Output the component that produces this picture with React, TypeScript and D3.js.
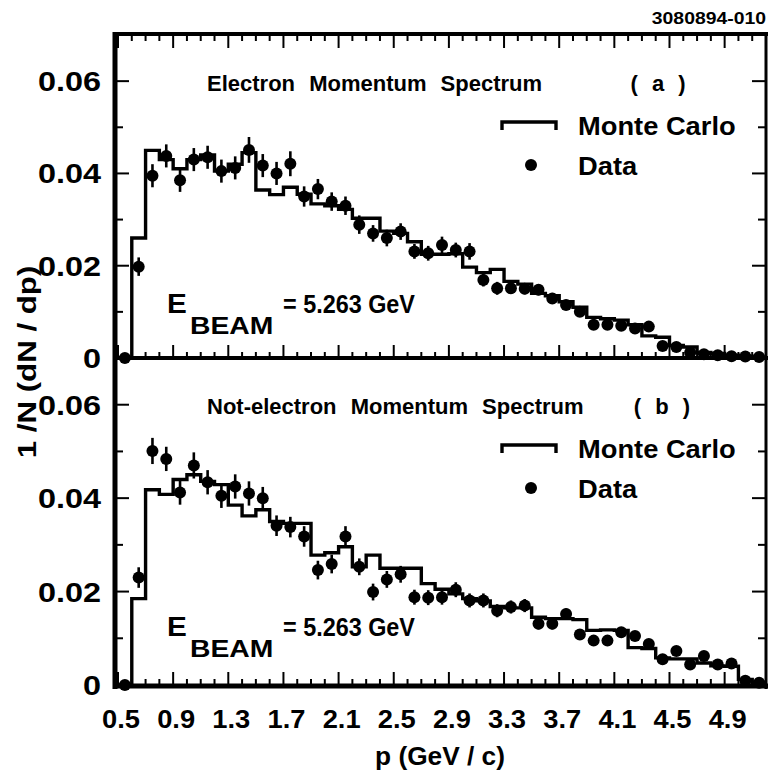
import React from 'react'
import * as d3 from 'd3'

// momentum bins: 0.1 GeV wide, from 0.5 to 5.2 GeV
const pLow = 0.5
const pHigh = 5.2
const binWidth = 0.1

const xTickLabels = ['0.5', '0.9', '1.3', '1.7', '2.1', '2.5', '2.9', '3.3', '3.7', '4.1', '4.5', '4.9']
const yTickLabels = ['0', '0.02', '0.04', '0.06']

// (a) electron spectrum
const mcA = [
  0, 0.026, 0.045, 0.043, 0.041, 0.043, 0.044, 0.0405, 0.042, 0.0445,
  0.0364, 0.0354, 0.037, 0.0355, 0.0334, 0.033, 0.0322, 0.0303, 0.0303, 0.0275,
  0.027, 0.0252, 0.0225, 0.0225, 0.0226, 0.0197, 0.0185, 0.0192, 0.0166, 0.016,
  0.014, 0.0135, 0.0122, 0.011, 0.0088, 0.0085, 0.0082, 0.0072, 0.0048, 0.0045,
  0.0027, 0.0024, 0.0012, 0.001, 0.0006, 0.0004, 0.0002,
]
const dataA = [
  0, 0.0198, 0.0395, 0.0438, 0.0385, 0.043, 0.0435, 0.0405, 0.0412, 0.0451,
  0.0417, 0.04, 0.0421, 0.035, 0.0366, 0.0339, 0.033, 0.0289, 0.027, 0.026,
  0.0274, 0.0231, 0.0227, 0.0245, 0.0234, 0.0231, 0.0169, 0.0151, 0.0151, 0.015,
  0.0148, 0.0129, 0.0115, 0.01, 0.0072, 0.0072, 0.007, 0.0064, 0.0068, 0.0026,
  0.0024, 0.0012, 0.0008, 0.0006, 0.0004, 0.0003, 0.0002,
]
const errA = [
  0.0004, 0.002, 0.0025, 0.0025, 0.0025, 0.0025, 0.0025, 0.0025, 0.0025, 0.0028,
  0.0025, 0.0025, 0.0027, 0.0022, 0.0022, 0.002, 0.002, 0.002, 0.0018, 0.0018,
  0.0018, 0.0016, 0.0016, 0.0018, 0.0016, 0.0018, 0.0014, 0.0014, 0.0012, 0.0012,
  0.0012, 0.0012, 0.0011, 0.0011, 0.001, 0.001, 0.001, 0.001, 0.001, 0.0008,
  0.0008, 0.0006, 0.0006, 0.0005, 0.0005, 0.0004, 0.0004,
]

// (b) not-electron spectrum
const mcB = [
  0, 0.0185, 0.0418, 0.0408, 0.044, 0.045, 0.0436, 0.0429, 0.0385, 0.0362,
  0.0375, 0.035, 0.0346, 0.0346, 0.0278, 0.0283, 0.0296, 0.0253, 0.0278, 0.025,
  0.025, 0.025, 0.0217, 0.0205, 0.0195, 0.0185, 0.018, 0.0168, 0.0165, 0.0165,
  0.0145, 0.0142, 0.0142, 0.014, 0.0117, 0.0118, 0.0117, 0.008, 0.0078, 0.0058,
  0.0056, 0.0056, 0.0047, 0.0041, 0.004, 0.0012, 0.0006,
]
const dataB = [
  0, 0.023, 0.0501, 0.0484, 0.0412, 0.047, 0.0434, 0.0405, 0.0425, 0.041,
  0.04, 0.0341, 0.0338, 0.0318, 0.0246, 0.0259, 0.0318, 0.0253, 0.0199, 0.0226,
  0.0237, 0.0188, 0.0187, 0.0188, 0.0204, 0.0181, 0.0181, 0.0159, 0.0167, 0.017,
  0.0131, 0.0131, 0.0152, 0.0108, 0.0095, 0.0095, 0.0113, 0.0105, 0.0088, 0.0055,
  0.0073, 0.0044, 0.0062, 0.0044, 0.0046, 0.0009, 0.0005,
]
const errB = [
  0.0004, 0.0022, 0.0028, 0.0026, 0.0026, 0.0028, 0.0026, 0.0026, 0.0026, 0.0026,
  0.0024, 0.0022, 0.0022, 0.0022, 0.002, 0.002, 0.0022, 0.0018, 0.0018, 0.0018,
  0.0018, 0.0016, 0.0016, 0.0016, 0.0016, 0.0015, 0.0015, 0.0014, 0.0014, 0.0014,
  0.0012, 0.0012, 0.0012, 0.0011, 0.0011, 0.0011, 0.0011, 0.001, 0.001, 0.0009,
  0.0009, 0.0008, 0.0008, 0.0008, 0.0008, 0.0005, 0.0005,
]

const FONT = 'Liberation Sans, Arial, Helvetica, sans-serif'

const x = d3.scaleLinear().domain([pLow, pHigh]).range([118, 766])
const frameLeft = 115
const frameRight = 766

type TProps = {
  x: number
  y: number
  size?: number
  anchor?: string
  sx?: number
  rotate?: number
  ws?: number
  children: React.ReactNode
}

function T({ x, y, size = 24, anchor = 'start', sx = 1, rotate = 0, ws = 0, children }: TProps) {
  return (
    <text
      transform={`translate(${x},${y}) rotate(${rotate}) scale(${sx},1)`}
      fontFamily={FONT}
      fontWeight="bold"
      fontSize={size}
      textAnchor={anchor}
      wordSpacing={ws}
      fill="#000"
    >
      {children}
    </text>
  )
}

type PanelProps = {
  mc: number[]
  data: number[]
  err: number[]
  top: number
  bottom: number
  title: string
  tag: string
  tagX: number
  topTicks: boolean
}

function Panel({ mc, data, err, top, bottom, title, tag, tagX, topTicks }: PanelProps) {
  const y = d3.scaleLinear().domain([0, 0.07]).range([bottom, top])
  const edges = mc.map((_, i) => pLow + i * binWidth)
  const steps: [number, number][] = mc.map((v, i) => [edges[i], v])
  steps.push([pHigh, mc[mc.length - 1]])
  const line = d3
    .line<[number, number]>()
    .x(d => x(d[0]))
    .y(d => y(d[1]))
    .curve(d3.curveStepAfter)

  const minor = d3.range(0, 48).map(i => pLow + i * binWidth)
  const yMinor = d3.range(0, 8).map(i => i * 0.01)

  return (
    <g>
      {/* x ticks on the lower edge */}
      {minor.map((p, i) => {
        const major = i % 4 === 0
        return (
          <line key={`xb${i}`} x1={x(p)} x2={x(p)} y1={bottom} y2={bottom - (major ? 13 : 6)}
            stroke="#000" strokeWidth={2} />
        )
      })}
      {topTicks && minor.map((p, i) => {
        const major = i % 4 === 0
        return (
          <line key={`xt${i}`} x1={x(p)} x2={x(p)} y1={top} y2={top + (major ? 13 : 6)}
            stroke="#000" strokeWidth={2} />
        )
      })}
      {/* y ticks */}
      {yMinor.slice(1).map((v, i) => {
        const major = (i + 1) % 2 === 0
        return (
          <g key={`y${i}`}>
            <line x1={frameLeft} x2={frameLeft + (major ? 14 : 8)} y1={y(v)} y2={y(v)} stroke="#000" strokeWidth={2} />
            <line x1={frameRight} x2={frameRight - (major ? 14 : 8)} y1={y(v)} y2={y(v)} stroke="#000" strokeWidth={2} />
          </g>
        )
      })}
      {yTickLabels.map((t, i) => (
        <T key={t} x={101} y={y(i * 0.02) + 10} size={27} anchor="end" sx={1.2}>{t}</T>
      ))}

      {/* Monte Carlo histogram */}
      <path d={line(steps) ?? ''} fill="none" stroke="#000" strokeWidth={3.4} strokeLinejoin="miter" />

      {/* data with errors */}
      {data.map((v, i) => {
        const p = pLow + (i + 0.5) * binWidth
        return (
          <g key={`d${i}`}>
            <line x1={x(p)} x2={x(p)} y1={y(Math.max(0, v - err[i]))} y2={y(v + err[i])} stroke="#000" strokeWidth={2.6} />
            <circle cx={x(p)} cy={y(v)} r={6} fill="#000" />
          </g>
        )
      })}

      {/* titles and legend */}
      <T x={207} y={top + 56} size={22} ws={8}>{title}</T>
      <T x={tagX} y={top + 56} size={22} anchor="middle" ws={8}>{tag}</T>

      <path d={`M${502},${top + 95} V${top + 87} H${556} V${top + 95}`} fill="none" stroke="#000" strokeWidth={3.4} />
      <T x={578} y={top + 100} size={26} sx={1.05}>Monte Carlo</T>
      <circle cx={531} cy={top + 130} r={6} fill="#000" />
      <T x={578} y={top + 140} size={26} sx={1.05}>Data</T>

      <T x={167} y={top + 278} size={27} sx={1.1}>E</T>
      <T x={190} y={top + 299} size={24} sx={1.18}>BEAM</T>
      <T x={283} y={top + 278} size={26} sx={0.9}>= 5.263 GeV</T>
    </g>
  )
}

export default function App() {
  const topA = 35
  const midY = 358
  const bottomY = 685
  return (
    <svg width={771} height={772} style={{ display: 'block', position: 'absolute', left: 0, top: 0, background: '#fff' }}>
      <rect x={0} y={0} width={771} height={772} fill="#fff" />
      <T x={766} y={24} size={17} anchor="end" sx={1.14}>3080894-010</T>

      <Panel mc={mcA} data={dataA} err={errA} top={topA} bottom={midY}
        title="Electron Momentum Spectrum" tag="( a )" tagX={658} topTicks={true} />
      <Panel mc={mcB} data={dataB} err={errB} top={midY} bottom={bottomY}
        title="Not-electron Momentum Spectrum" tag="( b )" tagX={662} topTicks={false} />

      {/* frame */}
      <line x1={frameLeft} x2={frameLeft} y1={32} y2={689} stroke="#000" strokeWidth={5} />
      <line x1={frameRight} x2={frameRight} y1={32} y2={689} stroke="#000" strokeWidth={3} />
      <line x1={113} x2={768} y1={topA - 1} y2={topA - 1} stroke="#000" strokeWidth={4} />
      <line x1={113} x2={768} y1={midY} y2={midY} stroke="#000" strokeWidth={4} />
      <line x1={113} x2={768} y1={bottomY + 1} y2={bottomY + 1} stroke="#000" strokeWidth={5} />

      {xTickLabels.map((t, i) => (
        <T key={t} x={x(pLow + i * 0.4) + 3} y={728} size={26} anchor="middle" sx={1.05}>{t}</T>
      ))}
      <T x={440} y={765} size={25} anchor="middle" sx={1.05}>p (GeV / c)</T>
      <T x={36} y={362} size={25} anchor="middle" rotate={-90} sx={1.25}>1 /N (dN / dp)</T>
    </svg>
  )
}
